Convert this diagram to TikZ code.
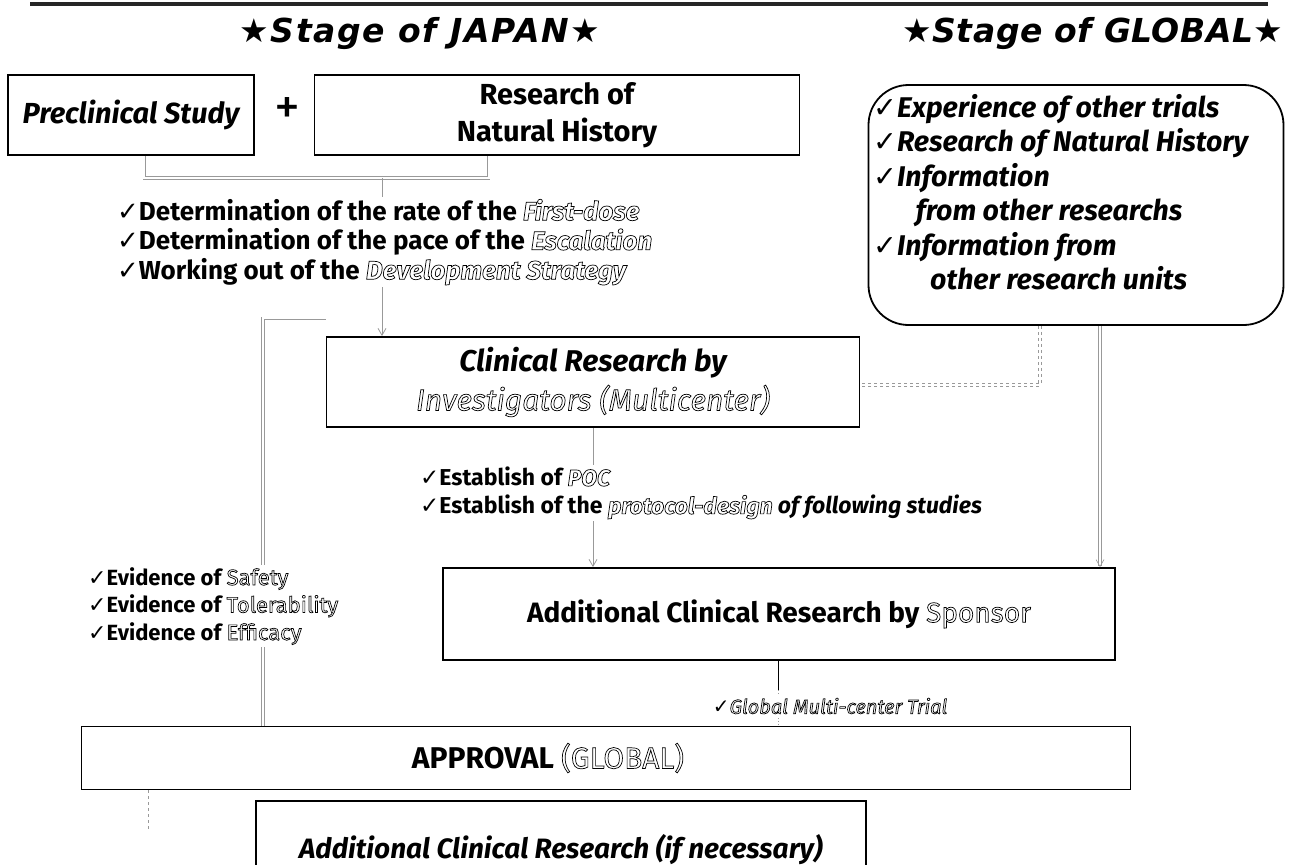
\documentclass[tikz,border=0pt]{standalone}
\usepackage{fontspec}
\setmainfont{Fira Sans}
\newfontfamily\djv{DejaVu Sans}
\usetikzlibrary{calc,arrows.meta,backgrounds}
\newcommand\ck{{\djv\bfseries\upshape ✓}}
\newcommand\hol[1]{\special{pdf:literal direct 1 Tr 0.7 w}#1\special{pdf:literal direct 0 Tr}}
\newcommand\fs[2]{\fontsize{#1}{#2}\selectfont}
\begin{document}
\begin{tikzpicture}[x=1pt,y=-1pt,
  box/.style={draw,line width=1.8pt,inner sep=0pt,fill=white},
  link/.style={draw=black!40,line width=0.8pt},
  dlink/.style={draw=black!40,line width=0.6pt,double distance=2pt},
  tip/.style={-{Straight Barb[length=7pt,width=8pt]}},
  lst/.style={anchor=north west,align=left,inner sep=2pt,fill=white}]
\useasboundingbox (0,0) rectangle (1291,865);
% top rule
\draw[line width=3.5pt,black!85] (30,4) -- (1268,4);
\node[font=\djv\fs{33}{35}\bfseries\itshape\addfontfeature{LetterSpace=5}] (t1) at (420,34) {★Stage of JAPAN★};
\node[font=\djv\fs{33}{35}\bfseries\itshape\addfontfeature{LetterSpace=1.5}] (t2) at (1093,34) {★Stage of GLOBAL★};
% boxes
\node[box,minimum width=246,minimum height=80,font=\fs{29}{30}\bfseries\itshape] (A) at (131,115) {Preclinical Study};
\node[font=\fs{52}{52}\mdseries] (plus) at (287,111) {+};
\node[box,minimum width=485,minimum height=80,align=center,font=\fs{29}{37}\bfseries] (B) at (557,115) {Research of\\Natural History};
\node[box,rounded corners=40pt,minimum width=415,minimum height=240] (C) at (1076,205) {};
\node[lst,fill=none,font=\fs{28.5}{34.5}\bfseries\itshape] (Ct) at (871,92) {\ck Experience of other trials\\\ck Research of Natural History\\\ck Information\\\hspace{1.5em}from other researchs\\\ck Information from\\\hspace{2em}other research units};
% determination list
\node[lst,font=\fs{26}{29.5}\bfseries] (L1) at (115,197) {\ck Determination of the rate of the \hol{\itshape First-dose}\\\ck Determination of the pace of the \hol{\itshape Escalation}\\\ck Working out of the \hol{\itshape Development Strategy}};
% clinical research box
\node[box,minimum width=533,minimum height=90,align=center,font=\fs{30}{39}\bfseries\itshape] (D) at (593,382) {Clinical Research by\\\hol{\mdseries Investigators (Multicenter)}};
\node[lst,font=\fs{23}{28}\bfseries] (L2) at (418,465) {\ck Establish of \hol{\itshape POC}\\\ck Establish of the \hol{\itshape protocol-design} of following studies};
\node[lst,font=\fs{22}{27.5}\bfseries] (L3) at (86,565) {\ck Evidence of \hol{\mdseries Safety}\\\ck Evidence of \hol{\mdseries Tolerability}\\\ck Evidence of \hol{\mdseries Efficacy}};
\node[box,minimum width=672,minimum height=92,font=\fs{28}{30}\bfseries] (E) at (779,614) {Additional Clinical Research by \hol{\mdseries Sponsor}};
\node[fill=white,font=\fs{20}{22}\itshape] (gm) at (830,706) {\ck\hol{Global Multi-center Trial}};
\node[box,minimum width=1049,minimum height=63] (F) at (606,758) {};
\node[font=\fs{30}{32}\bfseries] (Ft) at (548,758) {APPROVAL \hol{\mdseries (GLOBAL)}};
\node[box,minimum width=610,minimum height=90,font=\fs{28}{30}\bfseries\itshape,anchor=north west,text depth=0pt] (G) at (255,800) {\raisebox{-2pt}{Additional Clinical Research (if necessary)}};
% connectors
\begin{scope}[on background layer]
\coordinate (brk) at (382,178);
\draw[dlink] ($(A.south west)+(137,0)$) |- (brk) -| ($(B.south west)+(175,0)$);
\draw[link,tip] (brk) -- (brk |- D.north);
\coordinate (lx) at (263,0);
\draw[dlink] ([yshift=18pt]D.north west) -| (lx |- F.north);
\coordinate (c1) at (1040,0);
\coordinate (c2) at (1100,0);
\draw[dlink,dashed] (c1 |- C.south) |- ([yshift=-3pt]D.east);
\draw[dlink,tip] (c2 |- C.south) -- (c2 |- E.north);
\draw[link,tip] (D.south) -- (D.south |- E.north);
\coordinate (ex) at (778,0);
\draw[line width=0.8pt] (ex |- E.south) -- (778,690);
\draw[link,dotted] (778,690) -- (ex |- F.north);
\coordinate (fx) at (148,830);
\draw[link,dashed] (fx |- F.south) -- (fx);
\end{scope}
\end{tikzpicture}
\end{document}
